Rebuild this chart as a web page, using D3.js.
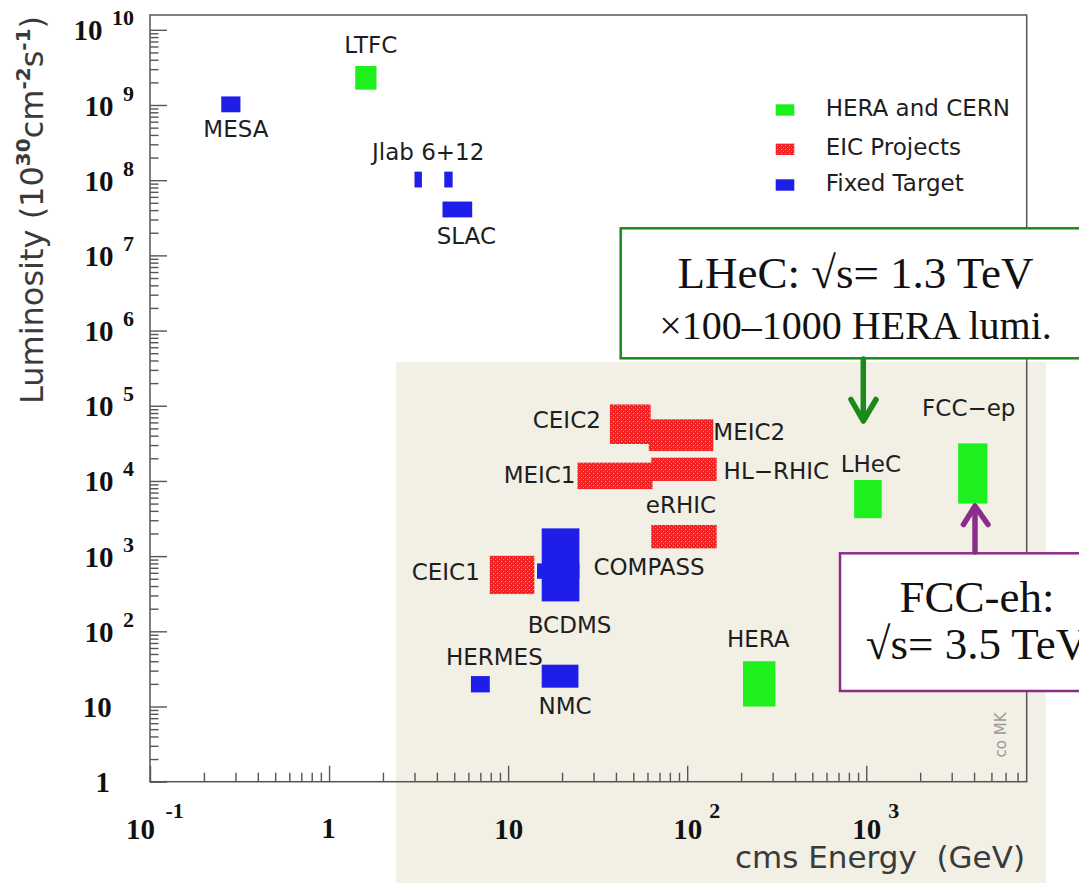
<!DOCTYPE html>
<html><head><meta charset="utf-8">
<script src="https://cdn.jsdelivr.net/npm/d3@7/dist/d3.min.js"></script>
<style>html,body{margin:0;padding:0;background:#fff;}svg{display:block}</style>
</head><body>
<svg id="c" width="1079" height="883"></svg>
<script>
// ---------------- data ----------------
const facilities = ["MESA","LTFC","Jlab6","Jlab12","SLAC","CEIC2","MEIC2","MEIC1","HL-RHIC","eRHIC","COMPASS","BCDMS","CEIC1","HERMES","NMC","HERA","LHeC","FCC-ep"];
const groups     = ["FT","HC","FT","FT","FT","EIC","EIC","EIC","EIC","EIC","FT","FT","EIC","FT","FT","HC","HC","HC"];
const energyLow  = [0.25, 1.40, 3.0, 4.4, 4.3, 37, 61, 24.4, 63, 63, 14.5, 15.4, 7.9, 6.2, 15.4, 205, 856, 3260];
const energyHigh = [0.32, 1.84, 3.3, 4.9, 6.3, 62.5, 140, 64, 146, 146, 25, 25, 14, 7.9, 24.7, 311, 1220, 4750];
const lumiLow    = [8e8, 1.6e9, 8e7, 8e7, 3.2e7, 3.1e4, 2.5e4, 7.8e3, 1.0e4, 1.27e3, 500, 250, 313, 15.4, 17.8, 10, 3.2e3, 5e3];
const lumiHigh   = [1.3e9, 3.3e9, 1.3e8, 1.3e8, 5.2e7, 1.04e5, 6.6e4, 1.75e4, 2.04e4, 2.6e3, 800, 2340, 1010, 25.4, 36, 40, 1.03e4, 3.16e4];
const labelText  = {"MESA":"MESA","LTFC":"LTFC","Jlab6":"Jlab 6+12","SLAC":"SLAC","CEIC2":"CEIC2","MEIC2":"MEIC2","MEIC1":"MEIC1","HL-RHIC":"HL\u2212RHIC","eRHIC":"eRHIC","COMPASS":"COMPASS","BCDMS":"BCDMS","CEIC1":"CEIC1","HERMES":"HERMES","NMC":"NMC","HERA":"HERA","LHeC":"LHeC","FCC-ep":"FCC\u2212ep"};
const legendKeys   = ["HC","EIC","FT"];
const legendLabels = ["HERA and CERN","EIC Projects","Fixed Target"];
const xMajorTicks = [0.1, 1, 10, 100, 1000];
const yMajorTicks = [1,1e1,1e2,1e3,1e4,1e5,1e6,1e7,1e8,1e9,1e10];
const xTitle = "cms Energy  (GeV)";

// ---------------- layout / style ----------------
const colors = {HC:"#1ef01e", FT:"#1e1ee8"};
const labelLayout = {
  "MESA":{at:"bottom",dx:5,dy:25}, "LTFC":{at:"top",dx:5,dy:-13}, "Jlab6":{at:"top",dx:10,dy:-12},
  "SLAC":{at:"bottom",dx:9,dy:27}, "CEIC2":{at:"left",dx:-9,dy:24}, "MEIC2":{at:"right",dx:0,dy:21},
  "MEIC1":{at:"left",dx:-2,dy:20}, "HL-RHIC":{at:"right",dx:7,dy:21}, "eRHIC":{at:"top",dx:-3,dy:-12},
  "COMPASS":{at:"right",dx:14,dy:12}, "CEIC1":{at:"left",dx:-10,dy:24}, "BCDMS":{at:"bottom",dx:9,dy:32},
  "HERMES":{at:"top",dx:14,dy:-11}, "NMC":{at:"bottom",dx:5,dy:26}, "HERA":{at:"top",dx:-1,dy:-14},
  "LHeC":{at:"top",dx:3,dy:-8}, "FCC-ep":{at:"top",dx:-4,dy:-27}
};
const sans = "'DejaVu Sans', sans-serif";
const serif = "'Liberation Serif', 'Times New Roman', serif";

const svg = d3.select("#c");
const x = d3.scaleLog().domain([0.1, Math.pow(10,3.896)]).range([150,1026.7]);
const y = d3.scaleLog().domain([1, Math.pow(10,10.197)]).range([781.7,15]);

// pattern for EIC
const defs = svg.append("defs");
const pat = defs.append("pattern").attr("id","eic").attr("patternUnits","userSpaceOnUse").attr("width",4).attr("height",4);
pat.append("rect").attr("width",4).attr("height",4).attr("fill","#f42222");
pat.append("rect").attr("x",1).attr("y",1).attr("width",1).attr("height",1).attr("fill","#ff9c9c");
pat.append("rect").attr("x",3).attr("y",3).attr("width",1).attr("height",1).attr("fill","#ff7070");
const fillOf = g => g==="EIC" ? "url(#eic)" : colors[g];

// beige shaded region
svg.append("rect").attr("x",396).attr("y",362).attr("width",650).attr("height",521).attr("fill","#f2efe5");

// minor ticks
const xMinor = [], yMinor = [];
for (let k=-1;k<=3;k++) for (let m=2;m<=9;m++){ const v=m*Math.pow(10,k); if (v<=x.domain()[1]) xMinor.push(v); }
for (let k=0;k<=10;k++) for (let m=2;m<=9;m++){ const v=m*Math.pow(10,k); if (v<=y.domain()[1]) yMinor.push(v); }

const axStroke = "#555";
function styleAxis(g){ g.select(".domain").remove(); g.selectAll("line").attr("stroke",axStroke).attr("stroke-width",1.4); }

const gxMinor = svg.append("g").attr("transform","translate(0,781.7)")
  .call(d3.axisBottom(x).tickValues(xMinor).tickSize(-9).tickFormat("")).call(styleAxis);
const gxMajor = svg.append("g").attr("transform","translate(0,781.7)")
  .call(d3.axisBottom(x).tickValues(xMajorTicks).tickSize(-16).tickFormat("")).call(styleAxis);
const gyMinor = svg.append("g").attr("transform","translate(150,0)")
  .call(d3.axisLeft(y).tickValues(yMinor).tickSize(-8.5).tickFormat("")).call(styleAxis);
const gyMajor = svg.append("g").attr("transform","translate(150,0)")
  .call(d3.axisLeft(y).tickValues(yMajorTicks).tickSize(-17).tickFormat("")).call(styleAxis);

// frame
svg.append("rect").attr("x",150).attr("y",15).attr("width",876.7).attr("height",766.7)
  .attr("fill","none").attr("stroke",axStroke).attr("stroke-width",1.5);

// tick labels
gyMajor.selectAll(".tick").each(function(d){
  const e = Math.round(Math.log10(d));
  const g = d3.select(this); g.selectAll("text").remove();
  const t = g.append("text").attr("font-family",serif).attr("font-weight","bold").attr("font-size",29)
    .attr("fill","#111").attr("text-anchor","end").attr("y",10);
  if (e===0) t.attr("x",-40).text("1");
  else if (e===1) t.attr("x",-38.3).text("10");
  else { t.attr("x",-16); t.append("tspan").text("10"); t.append("tspan").attr("dx",9.5).attr("dy",-15).attr("font-size",22).text(String(e)); }
});
gxMajor.selectAll(".tick").each(function(d){
  const e = Math.round(Math.log10(d));
  const g = d3.select(this); g.selectAll("text").remove();
  const base = {fam:serif};
  if (e===0) { g.append("text").attr("font-family",serif).attr("font-weight","bold").attr("font-size",29).attr("fill","#111")
      .attr("text-anchor","middle").attr("x",-1).attr("y",56.3).text("1"); return; }
  const off = e<0 ? -10 : 0;
  g.append("text").attr("font-family",serif).attr("font-weight","bold").attr("font-size",29).attr("fill","#111")
    .attr("text-anchor","middle").attr("x",off).attr("y",57.6).text("10");
  if (e!==1) g.append("text").attr("font-family",serif).attr("font-weight","bold").attr("font-size",22).attr("fill","#111")
    .attr("text-anchor","start").attr("x", e<0 ? 15 : 21.6).attr("y",36.6).text(e<0 ? "-"+Math.abs(e) : String(e));
});

// axis titles
svg.append("text").attr("x",1025).attr("y",868).attr("text-anchor","end").attr("font-family",sans)
  .attr("font-size",31).attr("fill","#3a3a3a").style("white-space","pre").text(xTitle);
const yt = svg.append("text").attr("transform","translate(43,210) rotate(-90)").attr("text-anchor","middle")
  .attr("font-family",sans).attr("font-size",32).attr("fill","#3a3a3a");
yt.append("tspan").text("Luminosity (10");
yt.append("tspan").attr("dy",-13).attr("font-size",20).attr("font-weight","bold").text("30");
yt.append("tspan").attr("dy",13).text("cm");
yt.append("tspan").attr("dy",-13).attr("font-size",20).attr("font-weight","bold").text("-2");
yt.append("tspan").attr("dy",13).text("s");
yt.append("tspan").attr("dy",-13).attr("font-size",20).attr("font-weight","bold").text("-1");
yt.append("tspan").attr("dy",13).text(")");

// facility boxes
const rows = facilities.map((n,i)=>({name:n, group:groups[i], e0:energyLow[i], e1:energyHigh[i], l0:lumiLow[i], l1:lumiHigh[i]}));
svg.append("g").selectAll("rect").data(rows).join("rect")
  .attr("x",d=>x(d.e0)).attr("width",d=>x(d.e1)-x(d.e0))
  .attr("y",d=>y(d.l1)).attr("height",d=>y(d.l0)-y(d.l1))
  .attr("fill",d=>fillOf(d.group));

// labels
const lab = svg.append("g").attr("font-family",sans).attr("font-size",23).attr("fill","#1e1e1e");
rows.forEach(d=>{
  const L = labelLayout[d.name]; if(!L) return;
  const x0=x(d.e0), x1=x(d.e1), yt0=y(d.l1), yb=y(d.l0), cx=(x0+x1)/2;
  let px, py, anchor;
  if (L.at==="top"){ px=cx+L.dx; py=yt0+L.dy; anchor="middle"; }
  else if (L.at==="bottom"){ px=cx+L.dx; py=yb+L.dy; anchor="middle"; }
  else if (L.at==="left"){ px=x0+L.dx; py=yt0+L.dy; anchor="end"; }
  else { px=x1+L.dx; py=yt0+L.dy; anchor="start"; }
  lab.append("text").attr("x",px).attr("y",py).attr("text-anchor",anchor).text(labelText[d.name]);
});

// legend
const lg = svg.append("g");
legendKeys.forEach((k,i)=>{
  const cy = [110,149.3,185][i];
  lg.append("rect").attr("x",775.7).attr("y",cy-5.7).attr("width",18.6).attr("height",11.4).attr("fill",fillOf(k));
  lg.append("text").attr("x",825.7).attr("y",cy+6).attr("font-family",sans).attr("font-size",23).attr("fill","#1e1e1e").text(legendLabels[i]);
});

// co MK
svg.append("text").attr("transform","translate(1006,735) rotate(-90)").attr("text-anchor","middle")
  .attr("font-family",sans).attr("font-size",15).attr("fill","#9a9a9a").text("co MK");

// LHeC annotation
const green="#1a8a1a", purple="#8b2d8b";
svg.append("rect").attr("x",620.7).attr("y",228.3).attr("width",470).attr("height",130).attr("fill","#fff").attr("stroke",green).attr("stroke-width",2.5);
svg.append("text").attr("x",855.5).attr("y",287.7).attr("text-anchor","middle").attr("font-family",serif).attr("font-size",45).attr("fill","#111").text("LHeC: \u221As= 1.3 TeV");
svg.append("text").attr("x",855.5).attr("y",339).attr("text-anchor","middle").attr("font-family",serif).attr("font-size",40).attr("fill","#111").text("\u00D7100\u20131000 HERA lumi.");
const ag = svg.append("g").attr("fill","none").attr("stroke",green).attr("stroke-width",5.5).attr("stroke-linecap","round").attr("stroke-linejoin","round");
ag.append("line").attr("x1",863.3).attr("x2",863.3).attr("y1",359).attr("y2",419);
ag.append("polyline").attr("points","851,399.5 863.3,421 876,399.5");

// FCC-eh annotation
svg.append("rect").attr("x",840).attr("y",553.3).attr("width",275).attr("height",137.7).attr("fill","#fff").attr("stroke",purple).attr("stroke-width",2.5);
svg.append("text").attr("x",977).attr("y",611.7).attr("text-anchor","middle").attr("font-family",serif).attr("font-size",45).attr("fill","#111").text("FCC-eh:");
svg.append("text").attr("x",977).attr("y",659.3).attr("text-anchor","middle").attr("font-family",serif).attr("font-size",45).attr("fill","#111").text("\u221As= 3.5 TeV");
const pg = svg.append("g").attr("fill","none").attr("stroke",purple).attr("stroke-width",5.5).attr("stroke-linecap","round").attr("stroke-linejoin","round");
pg.append("line").attr("x1",975).attr("x2",975).attr("y1",552).attr("y2",508);
pg.append("polyline").attr("points","963.5,524.5 975,506 988,524.5");
</script>
</body></html>
